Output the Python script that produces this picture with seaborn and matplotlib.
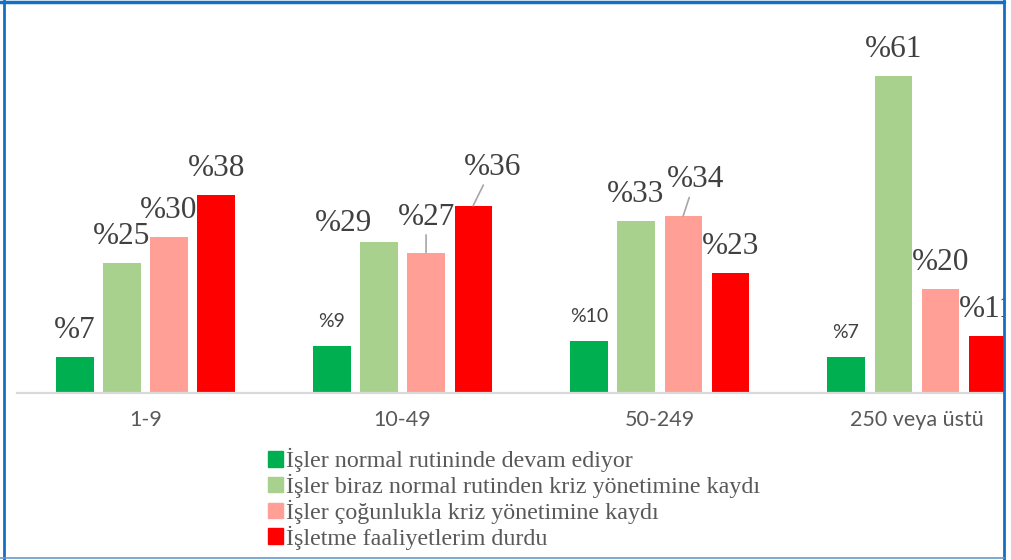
import seaborn as sns
import matplotlib.pyplot as plt
from matplotlib.patches import Rectangle
from matplotlib.lines import Line2D
import pandas as pd

categories = ['1-9', '10-49', '50-249', '250 veya üstü']
series = ['İşler normal rutininde devam ediyor',
          'İşler biraz normal rutinden kriz yönetimine kaydı',
          'İşler çoğunlukla kriz yönetimine kaydı',
          'İşletme faaliyetlerim durdu']
normal = [7, 9, 10, 7]
biraz = [25, 29, 33, 61]
cogunlukla = [30, 27, 34, 20]
durdu = [38, 36, 23, 11]

colors = ['#00B050', '#A9D18E', '#FF9F96', '#FF0000']

df = pd.DataFrame({
    'grup': categories * 4,
    'durum': [s for s in series for _ in categories],
    'oran': normal + biraz + cogunlukla + durdu,
})

# label nudges in pixels: (series index, category index) -> (dx, dy, leader)
nudges = {
    (1, 1): (-36, 11, False),
    (2, 1): (0, 28, True),
    (3, 1): (19, 31, True),
    (2, 2): (12, 29, True),
}
small = {(0, 1), (0, 2), (0, 3)}

sns.set_style('white')
fig = plt.figure(figsize=(10.11, 5.6), dpi=100)
ax = fig.add_axes([17 / 1011, 167 / 560, 987 / 1011, 383 / 560])

sns.barplot(data=df, x='grup', y='oran', hue='durum', order=categories,
            hue_order=series, palette=colors, width=0.732, gap=0.21,
            linewidth=0, saturation=1, ax=ax)

ax.set_xlim(-0.5, 3.34)
ax.set_ylim(0, 73.65)
ax.set_xlabel('')
ax.set_ylabel('')
ax.set_yticks([])
for side in ['top', 'left', 'right']:
    ax.spines[side].set_visible(False)
ax.spines['bottom'].set_color('#D9D9D9')
ax.spines['bottom'].set_linewidth(1.6)
ax.tick_params(axis='x', length=0, pad=12, labelsize=15.5, labelcolor='#595959')
for t in ax.get_xticklabels():
    t.set_fontfamily('Lato')

for si, cont in enumerate(ax.containers):
    for ci, bar in enumerate(cont.patches):
        x = bar.get_x() + bar.get_width() / 2
        h = bar.get_height()
        dx, dy, leader = nudges.get((si, ci), (0, 19, False))
        if (si, ci) in small:
            font = dict(fontfamily='Lato', fontsize=14)
        else:
            font = dict(fontfamily='Liberation Serif', fontsize=22.5)
        props = None
        if leader:
            props = dict(arrowstyle='-', color='#A6A6A6', lw=1.2,
                         shrinkA=0, shrinkB=0)
        ax.annotate(f'%{h:.0f}', xy=(x, h), xytext=(dx, dy),
                    textcoords='offset pixels', ha='center', va='baseline',
                    color='#404040', arrowprops=props, annotation_clip=False,
                    **font)

ax.get_legend().remove()
handles = [Rectangle((0, 0), 1, 1, color=c) for c in colors]
fig.legend(handles, series, loc='upper left',
           bbox_to_anchor=(268 / 1011, 1 - 448 / 560), frameon=False,
           borderpad=0, borderaxespad=0, handlelength=0.63, handleheight=0.63,
           handletextpad=0.12, labelspacing=0.07, labelcolor='#595959',
           prop=dict(family='Liberation Serif', size=17.3))

# white strip and frame
fig.patches.append(Rectangle((1005 / 1011, 0), 6 / 1011, 1,
                             transform=fig.transFigure, color='white', zorder=10))
blue = '#1470C4'
fig.lines.append(Line2D([4 / 1011, 4 / 1011], [0, 1], transform=fig.transFigure,
                        color=blue, lw=2, zorder=11))
fig.lines.append(Line2D([0, 1004 / 1011], [1 - 2 / 560, 1 - 2 / 560],
                        transform=fig.transFigure, color=blue, lw=2.5, zorder=11))
fig.lines.append(Line2D([1004 / 1011, 1004 / 1011], [0, 1], transform=fig.transFigure,
                        color=blue, lw=2, zorder=11))
fig.lines.append(Line2D([0, 1004 / 1011], [2 / 560, 2 / 560], transform=fig.transFigure,
                        color='#6A9BCB', lw=1.2, zorder=11))

fig.savefig('out.png', dpi=100)
